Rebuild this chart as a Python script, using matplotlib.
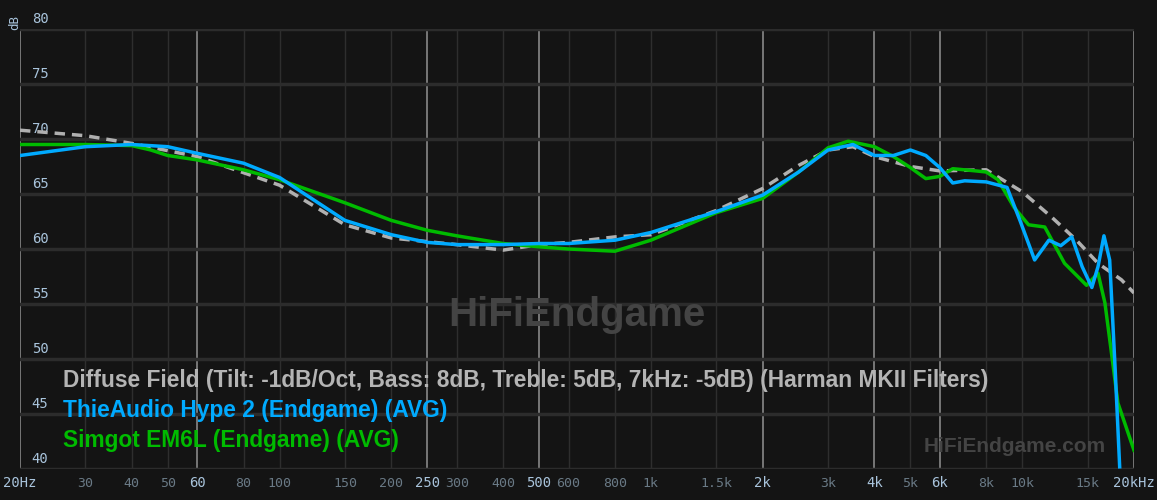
import matplotlib
matplotlib.use("Agg")
import matplotlib.pyplot as plt

target_f = [20,30,40,60,100,150,200,300,400,500,600,800,1000,1500,2000,2500,3000,3500,4000,5000,6000,8000,10000,12000,14000,16000,18500,20000]
target_db = [70.8,70.3,69.6,68.4,65.8,62.2,61.0,60.4,59.9,60.4,60.6,61.1,61.3,63.5,65.5,67.6,69.0,69.3,68.4,67.5,67.1,67.2,65.2,62.9,60.8,58.7,57.2,56.0]

hype_f = [20,30,40,50,60,80,100,150,200,250,300,400,500,600,800,1000,1500,2000,2500,3000,3500,4000,4500,5000,5500,6000,6500,7000,8000,9100,9860,10800,11800,12700,13600,14500,15400,16000,16600,17200,17800,18300]
hype_db = [68.5,69.3,69.5,69.3,68.7,67.8,66.5,62.6,61.3,60.6,60.4,60.4,60.5,60.5,60.8,61.5,63.4,64.9,67.0,69.0,69.5,68.5,68.5,69.0,68.5,67.4,66.0,66.2,66.1,65.6,62.6,59.0,60.8,60.3,61.1,58.4,56.5,58.4,61.2,59.0,49.0,40.2]

em6l_f = [20,30,40,45,50,60,80,100,150,200,250,300,400,500,600,800,1000,1500,2000,2500,3000,3400,4000,4500,5000,5500,6000,6500,7500,8000,8600,9500,10400,11500,13000,14900,16000,16700,17400,18100,20000]
em6l_db = [69.5,69.5,69.4,69.0,68.5,68.1,67.2,66.3,64.2,62.6,61.7,61.2,60.5,60.2,60.0,59.8,60.8,63.3,64.6,67.0,69.2,69.8,69.3,68.4,67.4,66.4,66.6,67.3,67.1,67.0,66.3,63.8,62.2,62.0,58.7,56.7,57.8,55.1,50.5,46.0,41.7]

legend = ["Diffuse Field (Tilt: -1dB/Oct, Bass: 8dB, Treble: 5dB, 7kHz: -5dB) (Harman MKII Filters)",
          "ThieAudio Hype 2 (Endgame) (AVG)",
          "Simgot EM6L (Endgame) (AVG)"]
major_ticks = [20,60,250,500,2000,4000,6000,20000]
major_labels = ["20Hz","60","250","500","2k","4k","6k","20kHz"]
minor_ticks = [30,40,50,80,100,150,200,300,400,600,800,1000,1500,3000,5000,8000,10000,15000]
minor_labels = ["30","40","50","80","100","150","200","300","400","600","800","1k","1.5k","3k","5k","8k","10k","15k"]
y_ticks = [40,45,50,55,60,65,70,75,80]

bg = "#141414"
fig = plt.figure(figsize=(11.57,5.0), dpi=100, facecolor=bg)
ax = fig.add_axes([20/1157, 1-469/500, 1114/1157, 440/500])
ax.set_facecolor(bg)
ax.set_xscale("log")
ax.set_xlim(20,20000)
ax.set_ylim(40,80)
for s in ax.spines.values():
    s.set_visible(False)
ax.tick_params(which="both", length=0)
ax.set_xticks([]); ax.set_yticks([])
ax.set_xticks([], minor=True)
for f in minor_ticks:
    ax.axvline(f, color="#2e2e2e", lw=1, zorder=0)
for f in major_ticks:
    ax.axvline(f, color="#888888", lw=1.2, zorder=0)
for y in y_ticks:
    ax.axhline(y, color="#2c2c2c", lw=2.5, zorder=0)
    ax.text(21.5, y+0.25, str(y), color="#a9c4dc", fontsize=10, family="DejaVu Sans Mono", va="bottom", ha="left")
tr = ax.get_xaxis_transform()
for f, l in zip(major_ticks, major_labels):
    ax.text(f, -0.032, l, transform=tr, ha="center", va="center", color="#a9c4dc", fontsize=10, family="DejaVu Sans Mono")
for f, l in zip(minor_ticks, minor_labels):
    ax.text(f, -0.032, l, transform=tr, ha="center", va="center", color="#6a7a86", fontsize=9.5, family="DejaVu Sans Mono")
fig.text(15/1157, 1-22/500, "dB", rotation=90, color="#a9c4dc", fontsize=9, family="DejaVu Sans Mono", ha="center", va="center")

ax.plot(target_f, target_db, color="#b0b0b0", lw=2.5, ls=(0,(3,2)), zorder=3)
ax.plot(em6l_f, em6l_db, color="#00bb00", lw=2.5, zorder=4)
ax.plot(hype_f, hype_db, color="#00aaff", lw=2.5, zorder=5)

ax.text(0.5, 0.35, "HiFiEndgame", transform=ax.transAxes, ha="center", va="center", color="#444444", fontsize=29, fontweight="bold", family="Liberation Sans")
ax.text(0.975, 0.05, "HiFiEndgame.com", transform=ax.transAxes, ha="right", va="center", color="#444444", fontsize=15, fontweight="bold", family="Liberation Sans")
cols = ["#b4b4b4", "#00aaff", "#00bb00"]
ys = [380, 410, 440]
for t, c, y in zip(legend, cols, ys):
    fig.text(63/1157, 1-y/500, t, color=c, fontsize=16.4, fontweight="bold", family="Liberation Sans", ha="left", va="center")

fig.savefig("out.png", dpi=100, facecolor=bg)
